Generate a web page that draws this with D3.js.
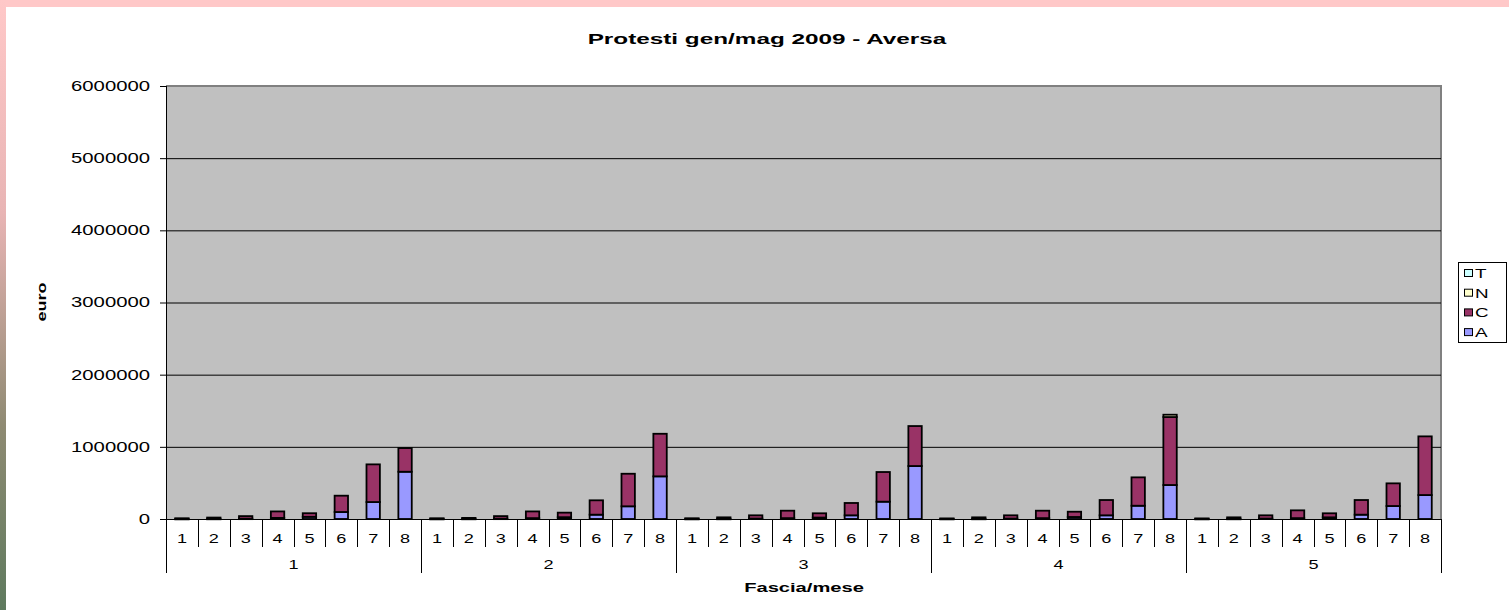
<!DOCTYPE html>
<html><head><meta charset="utf-8">
<script src="https://cdn.jsdelivr.net/npm/d3@7"></script>
<style>
html,body{margin:0;padding:0;background:#fff;}
svg{display:block;}
text{font-family:"Liberation Sans",Arial,sans-serif;fill:#000;}
</style></head>
<body>
<script>
// ---- data ----
const groups = ["1","2","3","4","5"];           // mese
const fasce = ["1","2","3","4","5","6","7","8"]; // fascia
const seriesKeys = ["A","C","N","T"];
const legendKeys = ["T","N","C","A"];
const valuesA = [
  2000, 3000, 5000, 15000, 30000, 97000, 235000, 655000,
  2000, 3000, 5000, 12000, 25000, 60000, 176000, 591000,
  2000, 3000, 6000, 12000, 20000, 51000, 240000, 734000,
  2000, 3000, 6000, 12000, 28000, 51000, 184000, 471000,
  2000, 3000, 6000, 12000, 23000, 60000, 180000, 332000
];
const valuesC = [
  8000, 17000, 35000, 90000, 50000, 226000, 522000, 328000,
  8000, 12000, 35000, 93000, 63000, 199000, 451000, 590000,
  8000, 20000, 45000, 103000, 59000, 171000, 411000, 554000,
  6000, 20000, 45000, 103000, 73000, 212000, 393000, 942000,
  6000, 20000, 45000, 108000, 56000, 203000, 314000, 813000
];
const valuesN = [
  0,0,0,0,0,0,0,0,
  0,0,0,0,0,0,0,0,
  0,0,0,0,0,0,0,0,
  0,0,0,0,0,0,0,32000,
  0,0,0,0,0,0,0,0
];
const valuesT = [
  0,0,0,0,0,0,0,0,
  0,0,0,0,0,0,0,0,
  0,0,0,0,0,0,0,0,
  0,0,0,0,0,0,0,0,
  0,0,0,0,0,0,0,0
];
const yTicks = [0,1000000,2000000,3000000,4000000,5000000,6000000];
const colors = {A:"#9999FF", C:"#993366", N:"#FFFFCC", T:"#CCFFFF"};

const W = 1509, H = 610;
const SX = 1.45; // horizontal text stretch of the original picture

const rows = [];
groups.forEach((g,gi)=>fasce.forEach((f,fi)=>{
  const i = gi*fasce.length+fi;
  rows.push({id:i, group:g, fascia:f, A:valuesA[i], C:valuesC[i], N:valuesN[i], T:valuesT[i]});
}));

const svg = d3.select("body").append("svg").attr("width",W).attr("height",H);

// page background decoration
const defs = svg.append("defs");
const lg = defs.append("linearGradient").attr("id","lg").attr("x1",0).attr("y1",0).attr("x2",0).attr("y2",1);
lg.append("stop").attr("offset","0%").attr("stop-color","#FFC8C8");
lg.append("stop").attr("offset","35%").attr("stop-color","#E8B4B4");
lg.append("stop").attr("offset","70%").attr("stop-color","#8E8A72");
lg.append("stop").attr("offset","100%").attr("stop-color","#5E7A5E");
svg.append("rect").attr("x",0).attr("y",0).attr("width",W).attr("height",7).attr("fill","#FFC8C8");
svg.append("rect").attr("x",0).attr("y",0).attr("width",6).attr("height",H).attr("fill","url(#lg)");

const plot = {l:166, t:86, r:1441, b:519};

const x = d3.scaleBand().domain(rows.map(d=>d.id)).range([plot.l, plot.r]).paddingInner(0.58).paddingOuter(0.29);
const y = d3.scaleLinear().domain([0,6000000]).range([plot.b, plot.t]);

// plot background
svg.append("rect").attr("x",plot.l).attr("y",plot.t).attr("width",plot.r-plot.l).attr("height",plot.b-plot.t)
  .attr("fill","#C0C0C0");
// plot border (gray top/right)
svg.append("path").attr("d",`M${plot.l},${plot.t}H${plot.r}V${plot.b}`).attr("fill","none")
  .attr("stroke","#808080").attr("stroke-width",2);

// gridlines
svg.append("g").selectAll("line").data(yTicks.filter(v=>v>0 && v<6000000)).join("line")
  .attr("x1",plot.l).attr("x2",plot.r).attr("y1",d=>y(d)+0.5).attr("y2",d=>y(d)+0.5)
  .attr("stroke","#000").attr("stroke-width",1);

// stacked bars
const stack = d3.stack().keys(seriesKeys);
const stacked = stack(rows);
const barG = svg.append("g");
stacked.forEach(layer=>{
  barG.append("g").selectAll("rect").data(layer.filter(d=>d[1]-d[0]>0)).join("rect")
    .attr("x",d=>x(d.data.id))
    .attr("width",x.bandwidth())
    .attr("y",d=>y(d[1]))
    .attr("height",d=>Math.max(0.5,y(d[0])-y(d[1])))
    .attr("fill",colors[layer.key])
    .attr("stroke","#000").attr("stroke-width",1.8);
});

// y axis
const yAxis = d3.axisLeft(y).tickValues(yTicks).tickFormat(d3.format("d")).tickSize(6).tickPadding(10);
const yg = svg.append("g").attr("transform",`translate(${plot.l},0)`).call(yAxis);
yg.select(".domain").attr("stroke","#000");
yg.selectAll(".tick line").attr("stroke","#000");
yg.selectAll(".tick text").attr("font-size",14).attr("fill","#000")
  .attr("font-family","Liberation Sans, Arial, sans-serif")
  .each(function(){
    const t = d3.select(this);
    const xx = +t.attr("x");
    t.attr("x",null).attr("transform",`translate(${xx},0) scale(${SX},1)`);
  });
// extend axis line down through category area
svg.append("line").attr("x1",plot.l+0.5).attr("x2",plot.l+0.5).attr("y1",plot.t).attr("y2",573).attr("stroke","#000");
svg.append("line").attr("x1",plot.l-6).attr("x2",plot.r).attr("y1",plot.b+0.5).attr("y2",plot.b+0.5).attr("stroke","#000");

// category axis (multi-level)
const step = x.step();
const x0 = x.range()[0];
const sep = svg.append("g");
d3.range(rows.length+1).forEach(i=>{
  const xx = Math.round(x0 + i*step)+0.5;
  const long = i % fasce.length === 0;
  sep.append("line").attr("x1",xx).attr("x2",xx).attr("y1",plot.b).attr("y2",long?573:547)
    .attr("stroke","#000");
});

function stretched(sel, px, py, sx){
  return sel.attr("transform",`translate(${px},${py}) scale(${sx||SX},1)`);
}

svg.append("g").selectAll("text").data(rows).join("text")
  .attr("text-anchor","middle").attr("font-size",12.5)
  .each(function(d){ stretched(d3.select(this), x(d.id)+x.bandwidth()/2, 543); })
  .text(d=>d.fascia);

const gsize = fasce.length;
svg.append("g").selectAll("text").data(groups).join("text")
  .attr("text-anchor","middle").attr("font-size",12.5)
  .each(function(g,gi){ stretched(d3.select(this), x0 + (gi+0.5)*gsize*step, 569); })
  .text(g=>g);

// axis titles
stretched(svg.append("text").attr("text-anchor","middle").attr("font-size",13).attr("font-weight","bold"), 804, 592, 1.55)
  .text("Fascia/mese");
svg.append("text").attr("text-anchor","middle").attr("font-size",12.5).attr("font-weight","bold")
  .attr("transform",`translate(46,302) rotate(-90) scale(${SX},1)`).text("euro");

// title
stretched(svg.append("text").attr("text-anchor","middle").attr("font-size",15).attr("font-weight","bold"), 767, 44, 1.62)
  .text("Protesti gen/mag 2009 - Aversa");

// legend
const leg = svg.append("g");
leg.append("rect").attr("x",1458.5).attr("y",262.5).attr("width",48).attr("height",80)
  .attr("fill","#fff").attr("stroke","#000");
legendKeys.forEach((k,i)=>{
  const yy = 273 + i*19.7;
  leg.append("rect").attr("x",1464.5).attr("y",yy-3.5).attr("width",8).attr("height",7)
    .attr("fill",colors[k]).attr("stroke","#000");
  stretched(leg.append("text").attr("font-size",13), 1475, yy+5).text(k);
});
</script>
</body></html>
